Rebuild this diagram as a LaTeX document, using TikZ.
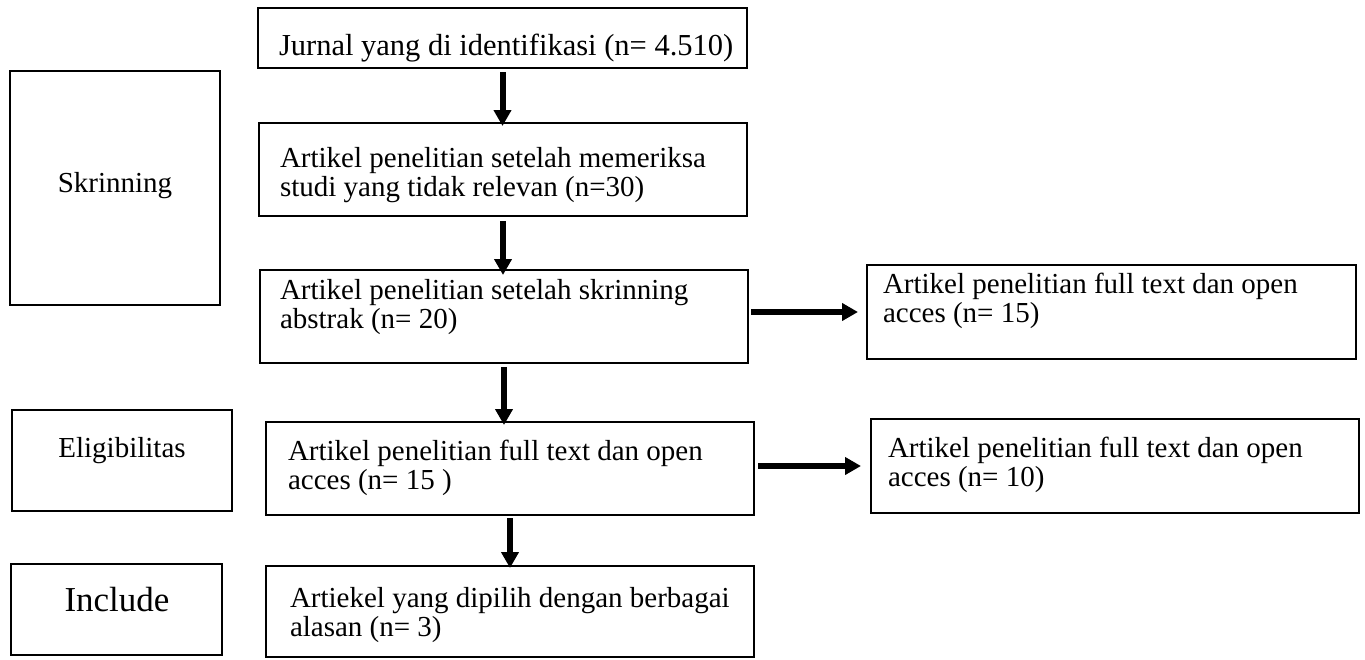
\documentclass[tikz,border=0pt]{standalone}
\usepackage{fontspec}
\setmainfont{Liberation Serif}
\usetikzlibrary{arrows.meta,calc}
\tikzset{
  box/.style={draw, line width=1.2pt, rectangle, inner sep=0pt, outer sep=0pt},
  txt/.style={anchor=base west, inner sep=0pt, outer sep=0pt, font=\fontsize{29}{29.5}\selectfont},
  lbl/.style={anchor=base, inner sep=0pt, outer sep=0pt, font=\fontsize{29}{29}\selectfont},
  arr/.style={line width=6pt, -{Triangle[width=17pt,length=16pt]}},
}
\newcommand{\twolines}[2]{\parbox[t]{480pt}{#1\\#2}}
\begin{document}
\begin{tikzpicture}[x=1pt,y=-1pt]
\useasboundingbox (0,0) rectangle (1365,659);
% main column boxes
\node[box, minimum width=489pt, minimum height=60pt] (b1) at (502.5,38) {};
\node[box, minimum width=488pt, minimum height=93pt] (b2) at (503,169.5) {};
\node[box, minimum width=488pt, minimum height=93pt] (b3) at (504,316.5) {};
\node[box, minimum width=488pt, minimum height=93pt] (b5) at (510,468.5) {};
\node[box, minimum width=488pt, minimum height=91pt] (b7) at (510,611.5) {};
% right boxes
\node[box, minimum width=489pt, minimum height=94pt] (r1) at (1111.5,312) {};
\node[box, minimum width=488pt, minimum height=94pt] (r2) at (1115,466) {};
% left stage boxes
\node[box, minimum width=210pt, minimum height=234pt] (s) at (115,188) {};
\node[box, minimum width=220pt, minimum height=101pt] (e) at (122,460.5) {};
\node[box, minimum width=211pt, minimum height=91pt] (i) at (116.5,609.5) {};
% texts
\node[txt, font=\fontsize{30.5}{30.5}\selectfont] (t1) at (279,55) {Jurnal yang di identifikasi (n= 4.510)};
\node[txt] (t2) at (280,167) {\twolines{Artikel penelitian setelah memeriksa}{studi yang tidak relevan (n=30)}};
\node[txt] (t3) at (280,299) {\twolines{Artikel penelitian setelah skrinning}{abstrak (n= 20)}};
\node[txt] (tr1) at (883,293) {\twolines{Artikel penelitian full text dan open}{acces (n= 15)}};
\node[txt] (t5) at (288,460) {\twolines{Artikel penelitian full text dan open}{acces (n= 15 )}};
\node[txt] (tr2) at (888,457) {\twolines{Artikel penelitian full text dan open}{acces (n= 10)}};
\node[txt] (t7) at (290,607) {\twolines{Artiekel yang dipilih dengan berbagai}{alasan (n= 3)}};
\node[lbl] (ls) at (115,192) {Skrinning};
\node[lbl] (le) at (122,457) {Eligibilitas};
\node[lbl, font=\fontsize{35}{35}\selectfont] (li) at (117,611) {Include};
% arrows
\draw[arr] ($(b1.south)+(0,4)$) -- ($(b1.south |- b2.north)+(0,3)$);
\draw[arr] ($(b2.south)+(0,5)$) -- ($(b2.south |- b3.north)+(0,5)$);
\draw[arr] ($(b3.south)+(0,4)$) -- ($(b3.south |- b5.north)+(0,3)$);
\draw[arr] ($(b5.south)+(0,3)$) -- ($(b5.south |- b7.north)+(0,2)$);
\draw[arr] ($(b3.east |- r1.west)+(3,0)$) -- ($(r1.west)+(-9,0)$);
\draw[arr] ($(b5.east |- r2.west)+(4,0)$) -- ($(r2.west)+(-10,0)$);
\end{tikzpicture}
\end{document}
